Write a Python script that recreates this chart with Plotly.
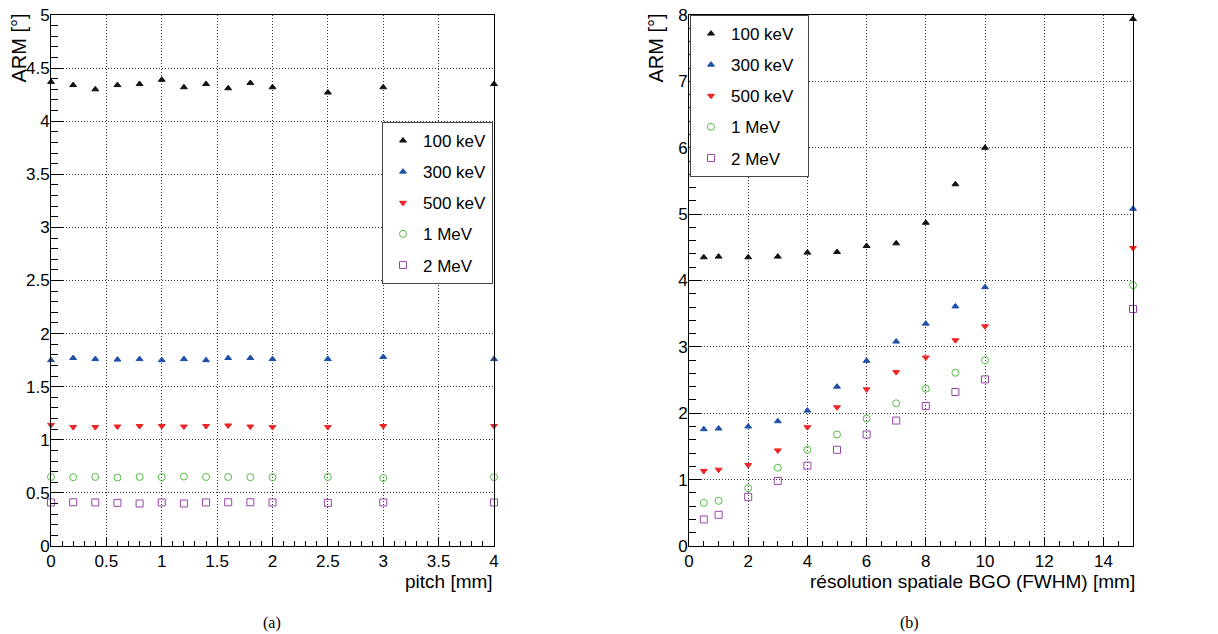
import plotly.graph_objects as go

# ---------------- data ----------------
labels = ["100 keV", "300 keV", "500 keV", "1 MeV", "2 MeV"]

pitch = [0, 0.2, 0.4, 0.6, 0.8, 1.0, 1.2, 1.4, 1.6, 1.8, 2.0, 2.5, 3.0, 4.0]
arm_pitch_100k = [4.37, 4.34, 4.30, 4.34, 4.35, 4.39, 4.32, 4.35, 4.31, 4.36, 4.32, 4.27, 4.32, 4.35]
arm_pitch_300k = [1.75, 1.77, 1.76, 1.755, 1.76, 1.75, 1.76, 1.75, 1.77, 1.77, 1.76, 1.76, 1.78, 1.76]
arm_pitch_500k = [1.14, 1.12, 1.12, 1.125, 1.13, 1.13, 1.125, 1.13, 1.135, 1.125, 1.12, 1.12, 1.13, 1.13]
arm_pitch_1M = [0.65, 0.648, 0.65, 0.645, 0.65, 0.648, 0.654, 0.65, 0.65, 0.648, 0.648, 0.65, 0.64, 0.648]
arm_pitch_2M = [0.41, 0.412, 0.41, 0.406, 0.40, 0.41, 0.40, 0.41, 0.412, 0.412, 0.41, 0.406, 0.41, 0.41]

resol = [0.5, 1, 2, 3, 4, 5, 6, 7, 8, 9, 10, 15]
arm_res_100k = [4.35, 4.36, 4.35, 4.36, 4.42, 4.43, 4.52, 4.56, 4.87, 5.45, 6.00, 7.94]
arm_res_300k = [1.76, 1.77, 1.80, 1.88, 2.04, 2.40, 2.79, 3.08, 3.35, 3.61, 3.90, 5.08]
arm_res_500k = [1.13, 1.15, 1.22, 1.44, 1.79, 2.09, 2.36, 2.62, 2.84, 3.10, 3.31, 4.49]
arm_res_1M = [0.65, 0.68, 0.87, 1.18, 1.45, 1.68, 1.92, 2.15, 2.37, 2.61, 2.80, 3.93]
arm_res_2M = [0.40, 0.47, 0.74, 0.98, 1.21, 1.45, 1.68, 1.89, 2.11, 2.32, 2.51, 3.57]

# ---------------- styles ----------------
colors = ["#111111", "#1f4fa8", "#ee2424", "#55bb44", "#9944aa"]
symbols = ["triangle-up", "triangle-up", "triangle-down", "circle-open", "square-open"]
sizes = [6, 6, 6, 7, 7]

W, H = 1218, 634
FONT = "Liberation Sans, Arial, Helvetica, sans-serif"
SERIF = "Liberation Serif, Times New Roman, serif"
PAD = "\u00a0\u00a0"  # widens the right-hand legend box a little

fig = go.Figure()

left_series = [arm_pitch_100k, arm_pitch_300k, arm_pitch_500k, arm_pitch_1M, arm_pitch_2M]
right_series = [arm_res_100k, arm_res_300k, arm_res_500k, arm_res_1M, arm_res_2M]

for i, (lab, ys) in enumerate(zip(labels, left_series)):
    fig.add_trace(go.Scatter(
        x=pitch, y=ys, mode="markers", name=lab, legend="legend",
        legendgroup="L%d" % i,
        xaxis="x", yaxis="y", cliponaxis=False,
        marker=dict(symbol=symbols[i], size=sizes[i], color=colors[i],
                    line=dict(width=1, color=colors[i])),
    ))

for i, (lab, ys) in enumerate(zip(labels, right_series)):
    fig.add_trace(go.Scatter(
        x=resol, y=ys, mode="markers", name=lab + PAD, legend="legend2",
        legendgroup="R%d" % i,
        xaxis="x2", yaxis="y2", cliponaxis=False,
        marker=dict(symbol=symbols[i], size=sizes[i], color=colors[i],
                    line=dict(width=1, color=colors[i])),
    ))

ydom = [(H - 546) / H, (H - 15) / H]
xdom1 = [51 / W, 494 / W]
xdom2 = [689 / W, 1133 / W]

common = dict(
    showline=True, linecolor="black", linewidth=1, mirror=True,
    showgrid=True, gridcolor="#333333", griddash="1px,2px", gridwidth=1,
    ticks="inside", tickcolor="black", tickwidth=1,
    zeroline=False, tickfont=dict(family=FONT, size=17, color="black"),
    automargin=False,
)
xminor = dict(ticklen=5, ticks="inside", tickcolor="black", showgrid=False)
yminor = dict(ticklen=7, ticks="inside", tickcolor="black", showgrid=False)

fig.update_layout(
    width=W, height=H,
    margin=dict(l=0, r=0, t=0, b=0),
    paper_bgcolor="white", plot_bgcolor="white",
    font=dict(family=FONT, size=17, color="black"),
    xaxis=dict(domain=xdom1, range=[0, 4], dtick=0.5, tick0=0, ticklen=9,
               minor=dict(dtick=0.1, **xminor), anchor="y", **common),
    yaxis=dict(domain=ydom, range=[0, 5], dtick=0.5, tick0=0, ticklen=12,
               minor=dict(dtick=0.1, **yminor), anchor="x", ticklabelstandoff=-3, **common),
    xaxis2=dict(domain=xdom2, range=[0, 15], dtick=2, tick0=0, ticklen=9,
                minor=dict(dtick=0.5, **xminor), anchor="y2", **common),
    yaxis2=dict(domain=ydom, range=[0, 8], dtick=1, tick0=0, ticklen=12,
                minor=dict(dtick=0.2, **yminor), anchor="x2", ticklabelstandoff=-3, **common),
    legend=dict(x=382 / W, y=(H - 122) / H, xanchor="left", yanchor="top",
                bgcolor="white", bordercolor="#444444", borderwidth=1,
                font=dict(family=FONT, size=17, color="black"),
                itemsizing="trace", tracegroupgap=6, itemwidth=30),
    legend2=dict(x=690 / W, y=(H - 15) / H, xanchor="left", yanchor="top",
                 bgcolor="white", bordercolor="#444444", borderwidth=1,
                 font=dict(family=FONT, size=17, color="black"),
                 itemsizing="trace", tracegroupgap=6, itemwidth=30),
    showlegend=True,
    hovermode=False,
)

ann = []
# y-axis titles (top aligned, rotated)
for xpx in (18, 655):
    ann.append(dict(text="ARM [°]", x=xpx / W, y=(H - 12) / H, xref="paper", yref="paper",
                    xanchor="center", yanchor="top", textangle=-90, showarrow=False,
                    font=dict(family=FONT, size=20)))
# x-axis titles (right aligned)
ann.append(dict(text="pitch [mm]", x=495 / W, y=(H - 581) / H, xref="paper", yref="paper",
                xanchor="right", yanchor="middle", showarrow=False,
                font=dict(family=FONT, size=19)))
ann.append(dict(text="résolution spatiale BGO (FWHM) [mm]", x=1137 / W, y=(H - 581) / H,
                xref="paper", yref="paper", xanchor="right", yanchor="middle", showarrow=False,
                font=dict(family=FONT, size=19)))
# captions
ann.append(dict(text="(a)", x=272 / W, y=(H - 623) / H, xref="paper", yref="paper",
                xanchor="center", yanchor="middle", showarrow=False,
                font=dict(family=SERIF, size=16)))
ann.append(dict(text="(b)", x=909 / W, y=(H - 623) / H, xref="paper", yref="paper",
                xanchor="center", yanchor="middle", showarrow=False,
                font=dict(family=SERIF, size=16)))
fig.update_layout(annotations=ann)

fig.write_html("out.html", config={"displayModeBar": False},
               post_script="document.body.style.margin='0';document.body.style.overflow='hidden';")
